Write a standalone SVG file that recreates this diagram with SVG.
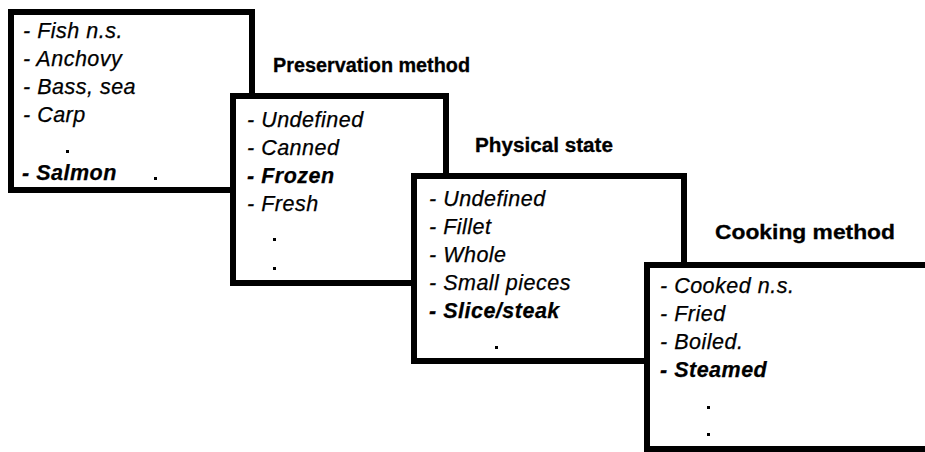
<svg xmlns="http://www.w3.org/2000/svg" width="925" height="452" viewBox="0 0 925 452">
  <style>
    .box { fill: #ffffff; stroke: #000000; stroke-width: 6; }
    .item { font-family: "Liberation Sans", Arial, sans-serif; font-style: italic; font-size: 21.5px; letter-spacing: 0.5px; fill: #000000; stroke: #000000; stroke-width: 0.25; }
    .sel { font-weight: bold; }
    .title { font-family: "Liberation Sans", Arial, sans-serif; font-weight: bold; font-size: 20px; fill: #000000; stroke: #000000; stroke-width: 0.3; }
    .dot { fill: #000000; }
  </style>

  <!-- Fish species -->
  <g id="species">
    <rect class="box" x="11" y="12" width="241" height="178"/>
    <text class="item" x="23" y="38">- Fish n.s.</text>
    <text class="item" x="23" y="66">- Anchovy</text>
    <text class="item" x="23" y="94">- Bass, sea</text>
    <text class="item" x="23" y="122">- Carp</text>
    <rect class="dot" x="66" y="150" width="3" height="3"/>
    <text class="item sel" x="22" y="180">- Salmon</text>
    <rect class="dot" x="154" y="177" width="3" height="3"/>
  </g>

  <!-- Preservation method -->
  <g id="preservation">
    <text class="title" x="273" y="72" textLength="197" lengthAdjust="spacingAndGlyphs">Preservation method</text>
    <rect class="box" x="233" y="96" width="213" height="187"/>
    <text class="item" x="247" y="127">- Undefined</text>
    <text class="item" x="247" y="155">- Canned</text>
    <text class="item sel" x="247" y="183">- Frozen</text>
    <text class="item" x="247" y="211">- Fresh</text>
    <rect class="dot" x="273" y="238" width="3" height="3"/>
    <rect class="dot" x="273" y="267" width="3" height="3"/>
  </g>

  <!-- Physical state -->
  <g id="physical-state">
    <text class="title" x="475" y="152" textLength="138" lengthAdjust="spacingAndGlyphs">Physical state</text>
    <rect class="box" x="414" y="176" width="270" height="185"/>
    <text class="item" x="429" y="206">- Undefined</text>
    <text class="item" x="429" y="234">- Fillet</text>
    <text class="item" x="429" y="262">- Whole</text>
    <text class="item" x="429" y="290">- Small pieces</text>
    <text class="item sel" x="429" y="318">- Slice/steak</text>
    <rect class="dot" x="495" y="346" width="3" height="3"/>
  </g>

  <!-- Cooking method -->
  <g id="cooking">
    <text class="title" x="715" y="239" textLength="180" lengthAdjust="spacingAndGlyphs">Cooking method</text>
    <rect class="box" x="647" y="265" width="300" height="184"/>
    <text class="item" x="660" y="293">- Cooked n.s.</text>
    <text class="item" x="660" y="321">- Fried</text>
    <text class="item" x="660" y="349">- Boiled.</text>
    <text class="item sel" x="660" y="377">- Steamed</text>
    <rect class="dot" x="707" y="406" width="3" height="3"/>
    <rect class="dot" x="707" y="433" width="3" height="3"/>
  </g>
</svg>
